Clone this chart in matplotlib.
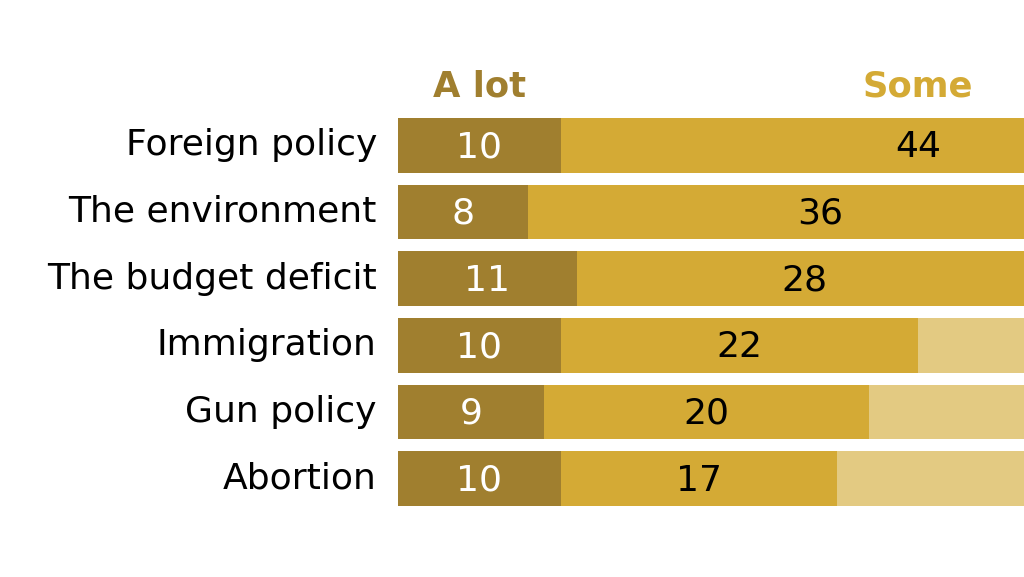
import numpy as np
import matplotlib.pyplot as plt

# data (third segment runs off the right edge)
categories = ["Foreign policy", "The environment", "The budget deficit",
              "Immigration", "Gun policy", "Abortion"]
a_lot = [10, 8, 11, 10, 9, 10]
some = [44, 36, 28, 22, 20, 17]
not_much = [30, 34, 36, 38, 40, 42]

c_lot = "#a07f2f"
c_some = "#d4aa35"
c_rest = "#e3ca82"

fig = plt.figure(figsize=(10.24, 5.77), dpi=100)
ax = fig.add_axes([398 / 1024, 1 - 512 / 577, 626 / 1024, 400 / 577])

y = np.arange(len(categories))
h = 0.82
lot = np.array(a_lot)
sm = np.array(some)
ax.barh(y, lot, height=h, color=c_lot, linewidth=0)
ax.barh(y, sm, left=lot, height=h, color=c_some, linewidth=0)
ax.barh(y, not_much, left=lot + sm, height=h, color=c_rest, linewidth=0)

for i in range(len(categories)):
    ax.text(lot[i] / 2, y[i] + 0.03, str(lot[i]), ha="center", va="center",
            color="white", fontsize=26, family="DejaVu Sans")
    ax.text(lot[i] + sm[i] / 2, y[i] + 0.03, str(sm[i]), ha="center", va="center",
            color="black", fontsize=26, family="DejaVu Sans")
    ax.text(-1.3, y[i], categories[i], ha="right", va="center",
            color="black", fontsize=26, family="DejaVu Sans")

# column headers over the first row
ax.text(lot[0] / 2, -0.88, "A lot", ha="center", va="center", color=c_lot,
        fontsize=25.5, fontweight="bold", family="Liberation Sans Narrow")
ax.text(lot[0] + sm[0] / 2, -0.88, "Some", ha="center", va="center", color=c_some,
        fontsize=25.5, fontweight="bold", family="Liberation Sans Narrow")

ax.set_xlim(0, 626 / 16.25)
ax.set_ylim(len(categories) - 0.5, -0.5)
ax.axis("off")

fig.savefig("out.png", dpi=100)
